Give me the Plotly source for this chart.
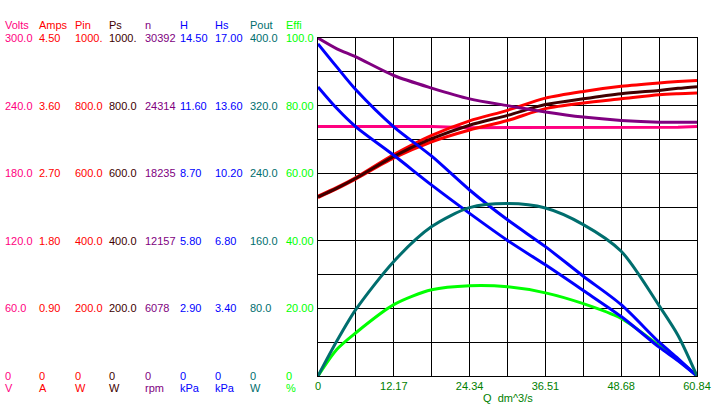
import plotly.graph_objects as go

# ---------------- data ----------------
Q = [0, 3.042, 6.084, 12.168, 18.252, 24.336, 30.42, 36.504, 42.588, 48.672, 54.756, 57.798, 60.84]

volts = [221.5, 221.5, 221.5, 221.5, 221.5, 220.4, 220.4, 220.4, 220.4, 220.4, 220.4, 220.8, 221.5]
amps = [2.376, 2.493, 2.624, 2.903, 3.119, 3.276, 3.402, 3.560, 3.636, 3.690, 3.744, 3.758, 3.767]
pin = [532, 558, 587, 655, 712, 755, 786, 822, 842, 857, 867, 871, 874]
ps = [530, 556, 585, 650, 702, 742, 771, 803, 820, 835, 845, 851, 856]
speed = [30392, 29420, 28690, 27020, 25890, 24920, 24310, 23740, 23280, 22980, 22820, 22820, 22820]
head = [14.25, 13.25, 12.28, 10.69, 9.43, 7.98, 6.70, 5.55, 4.28, 3.06, 1.45, 0.75, 0]
head_s = [14.54, 13.45, 12.53, 11.10, 9.60, 8.18, 6.82, 5.59, 4.30, 2.99, 1.45, 0.77, 0]
pout = [0, 41.6, 78.8, 135.6, 176.8, 199.2, 204.0, 198.8, 179.2, 147.6, 83.2, 48.0, 0]
effi = [0, 7.9, 12.8, 21.1, 25.5, 26.7, 26.4, 24.6, 21.4, 17.0, 9.0, 4.8, 0]

x_tickvals = [0, 6.084, 12.168, 18.252, 24.336, 30.42, 36.504, 42.588, 48.672, 54.756, 60.84]
x_ticktext = ["0", "", "12.17", "", "24.34", "", "36.51", "", "48.68", "", "60.84"]
x_title = "Q\u00a0\u00a0dm^3/s"

series_names = ["Volts", "Amps", "Pin", "Ps", "n", "H", "Hs", "Pout", "Effi"]
series_units = ["V", "A", "W", "W", "rpm", "kPa", "kPa", "W", "%"]
series_max = [300.0, 4.5, 1000.0, 1000.0, 30392, 14.5, 17.0, 400.0, 100.0]
series_data = [volts, amps, pin, ps, speed, head, head_s, pout, effi]

# tick labels of each left-hand scale, from top (100 %) to bottom (0)
volts_ticks = ["300.0", "240.0", "180.0", "120.0", "60.0", "0"]
amps_ticks = ["4.50", "3.60", "2.70", "1.80", "0.90", "0"]
pin_ticks = ["1000.", "800.0", "600.0", "400.0", "200.0", "0"]
ps_ticks = ["1000.", "800.0", "600.0", "400.0", "200.0", "0"]
speed_ticks = ["30392", "24314", "18235", "12157", "6078", "0"]
head_ticks = ["14.50", "11.60", "8.70", "5.80", "2.90", "0"]
head_s_ticks = ["17.00", "13.60", "10.20", "6.80", "3.40", "0"]
pout_ticks = ["400.0", "320.0", "240.0", "160.0", "80.0", "0"]
effi_ticks = ["100.0", "80.00", "60.00", "40.00", "20.00", "0"]
tick_positions = [100, 80, 60, 40, 20, 0]
series_ticks = [volts_ticks, amps_ticks, pin_ticks, ps_ticks, speed_ticks,
                head_ticks, head_s_ticks, pout_ticks, effi_ticks]

# ---------------- styles ----------------
colors = ["#FF0080", "#FF0000", "#FF0000", "#400000", "#800080",
          "#0000FF", "#0000FF", "#006E6E", "#00FF00"]
col_left_px = [3, 37, 73, 107, 143, 178, 213, 248, 284]

W, H = 725, 411
ML, MR, MT, MB = 318, 28, 38, 35
PW, PH = W - ML - MR, H - MT - MB
FONT = "Liberation Sans, Arial, sans-serif"

fig = go.Figure()
for i, (name, data) in enumerate(zip(series_names, series_data)):
    yax = "y" if name == "Effi" else "y%d" % (i + 2)
    shape = "linear" if name == "Volts" else "spline"
    fig.add_trace(go.Scatter(
        x=Q, y=data, mode="lines", name=name, yaxis=yax,
        line=dict(color=colors[i], width=3, shape=shape, smoothing=0.8),
        hoverinfo="skip",
    ))

layout_axes = {}
for i, name in enumerate(series_names):
    if name == "Effi":
        continue
    layout_axes["yaxis%d" % (i + 2)] = dict(
        overlaying="y", range=[0, series_max[i]], visible=False, fixedrange=True)

annotations = []
def px_to_paper_x(px):
    return (px - ML) / PW

def px_to_paper_y(py):
    return (H - MB - py) / PH

for i, name in enumerate(series_names):
    xp = px_to_paper_x(col_left_px[i])
    f = dict(family=FONT, size=11, color=colors[i])
    annotations.append(dict(text=name, x=xp, y=px_to_paper_y(25), xref="paper", yref="paper",
                            xanchor="left", yanchor="middle", showarrow=False, font=f))
    for t, pos in zip(series_ticks[i], tick_positions):
        annotations.append(dict(text=t, x=xp, y=pos, xref="paper", yref="y",
                                xanchor="left", yanchor="middle", showarrow=False, font=f))
    annotations.append(dict(text=series_units[i], x=xp, y=px_to_paper_y(388), xref="paper", yref="paper",
                            xanchor="left", yanchor="middle", showarrow=False, font=f))

annotations.append(dict(text=x_title, x=0.5, y=px_to_paper_y(398), xref="paper", yref="paper",
                        xanchor="center", yanchor="middle", showarrow=False,
                        font=dict(family=FONT, size=11, color="#008000")))

fig.update_layout(
    width=W, height=H,
    margin=dict(l=ML, r=MR, t=MT, b=MB, pad=0),
    paper_bgcolor="white", plot_bgcolor="white",
    showlegend=False,
    xaxis=dict(range=[0, 60.84], tickvals=x_tickvals, ticktext=x_ticktext,
               showgrid=True, gridcolor="black", gridwidth=1, zeroline=False,
               showline=True, mirror=True, linecolor="black", linewidth=1,
               ticks="", tickfont=dict(family=FONT, size=11, color="#008000"),
               fixedrange=True),
    yaxis=dict(range=[0, 100], tickvals=[0, 10, 20, 30, 40, 50, 60, 70, 80, 90, 100],
               showticklabels=False, showgrid=True, gridcolor="black", gridwidth=1,
               zeroline=False, showline=True, mirror=True, linecolor="black", linewidth=1,
               ticks="", fixedrange=True),
    annotations=annotations,
    **layout_axes,
)

fig.write_html("out.html", config={"displayModeBar": False})
